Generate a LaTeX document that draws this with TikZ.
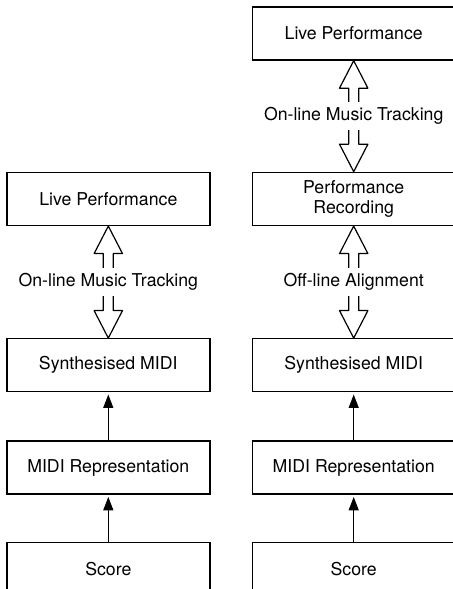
\documentclass[tikz,border=0pt]{standalone}
\usepackage{fontspec}
\setmainfont{TeX Gyre Heros}
\usetikzlibrary{arrows.meta, positioning, calc}

\newcommand{\dualarrow}[2]{%
  \draw[line width=0.6pt, line join=round, fill=white] (#1.south)
    -- ($(#1.south)+(7.1pt,-13.75pt)$) -- ($(#1.south)+(2.5pt,-13.75pt)$)
    -- ($(#2.north)+(2.5pt,13.75pt)$) -- ($(#2.north)+(7.1pt,13.75pt)$)
    -- (#2.north)
    -- ($(#2.north)+(-7.1pt,13.75pt)$) -- ($(#2.north)+(-2.5pt,13.75pt)$)
    -- ($(#1.south)+(-2.5pt,-13.75pt)$) -- ($(#1.south)+(-7.1pt,-13.75pt)$)
    -- cycle;}

\begin{document}
\begin{tikzpicture}[>={Triangle[length=6.75pt, width=5pt]}, x=0.5pt, y=0.5pt,
    box/.style={draw, line width=0.7pt, minimum width=101.5pt, minimum height=26.5pt,
        align=center, font=\fontsize{8.85}{10}\selectfont},
    tag/.style={fill=white, inner xsep=1.5pt, inner ysep=2.6pt, font=\fontsize{8.85}{10}\selectfont}]

    \useasboundingbox (0,0) rectangle (452,589);

    \node[box] (rlive) at (353.7,555.5) {Live Performance};
    \node[box, below=55.5pt of rlive] (rrec) {Performance\\Recording};
    \node[box, below=56pt of rrec] (rsynth) {Synthesised MIDI};
    \node[box, below=24pt of rsynth] (rmidi) {MIDI Representation};
    \node[box, below=23.5pt of rmidi] (rscore) {Score};

    \node[box, left=20.5pt of rrec] (llive) {Live Performance};
    \node[box, left=20.5pt of rsynth] (lsynth) {Synthesised MIDI};
    \node[box, left=20.5pt of rmidi] (lmidi) {MIDI Representation};
    \node[box, left=20.5pt of rscore] (lscore) {Score};

    \dualarrow{llive}{lsynth}
    \dualarrow{rlive}{rrec}
    \dualarrow{rrec}{rsynth}
    \path (llive) -- node[tag] {On-line Music Tracking} (lsynth);
    \path (rlive) -- node[tag] {On-line Music Tracking} (rrec);
    \path (rrec) -- node[tag] {Off-line Alignment} (rsynth);

    \draw[->, line width=0.7pt, shorten >=1pt] (lscore) -- (lmidi);
    \draw[->, line width=0.7pt, shorten >=1pt] (lmidi) -- (lsynth);
    \draw[->, line width=0.7pt, shorten >=1pt] (rscore) -- (rmidi);
    \draw[->, line width=0.7pt, shorten >=1pt] (rmidi) -- (rsynth);
\end{tikzpicture}
\end{document}
